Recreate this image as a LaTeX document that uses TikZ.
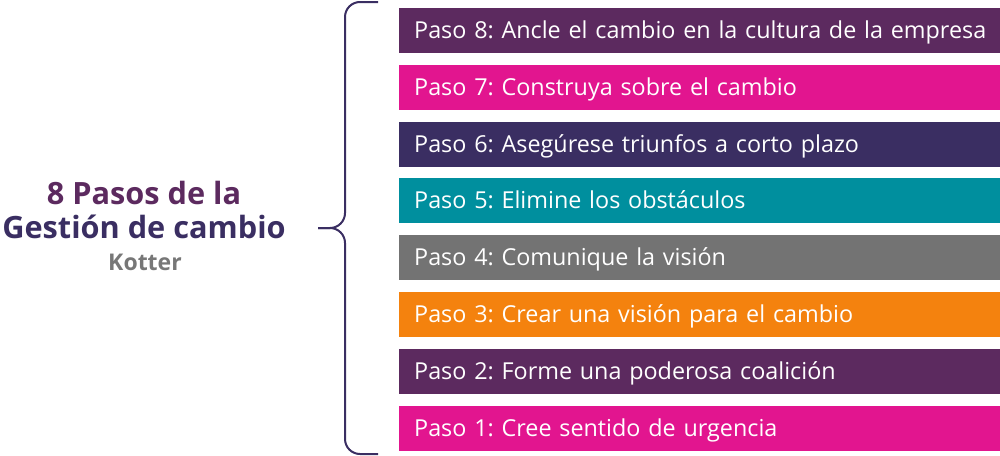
\documentclass[tikz,border=0pt]{standalone}
\usepackage{fontspec}
\setmainfont{Open Sans}
\frenchspacing
\definecolor{cpurple}{HTML}{5C2A5F}
\definecolor{cmagenta}{HTML}{E2158F}
\definecolor{cnavy}{HTML}{3A2E62}
\definecolor{cteal}{HTML}{008F9E}
\definecolor{cgrey}{HTML}{737373}
\definecolor{corange}{HTML}{F4820E}
\definecolor{ctitlegrey}{HTML}{777777}
\tikzset{
  bar/.style={anchor=north west, minimum height=45pt, inner xsep=15pt, inner ysep=0pt,
    text width=580pt, align=left, text=white, text height=16pt, text depth=0.4pt,
    font=\fontsize{23.35}{26}\selectfont},
  bracelines/.style={draw=cnavy, line width=2pt, rounded corners=15pt},
}
\begin{document}
\begin{tikzpicture}[x=1pt,y=-1pt]
\useasboundingbox (0,0) rectangle (1000,455);
\node[bar, fill=cpurple]  (p8) at (399,8)   {Paso 8: Ancle el cambio en la cultura de la empresa};
\node[bar, fill=cmagenta] (p7) at (399,65)  {Paso 7: Construya sobre el cambio};
\node[bar, fill=cnavy]    (p6) at (399,122) {Paso 6: Asegúrese triunfos a corto plazo};
\node[bar, fill=cteal]    (p5) at (399,178) {Paso 5: Elimine los obstáculos};
\node[bar, fill=cgrey]    (p4) at (399,235) {Paso 4: Comunique la visión};
\node[bar, fill=corange]  (p3) at (399,292) {Paso 3: Crear una visión para el cambio};
\node[bar, fill=cpurple]  (p2) at (399,349) {Paso 2: Forme una poderosa coalición};
\node[bar, fill=cmagenta] (p1) at (399,406) {Paso 1: Cree sentido de urgencia};
\coordinate (bt) at (378,2);
\coordinate (bb) at (378,454);
\coordinate (tip) at (318,228);
\draw[bracelines] (bt) -- (345,2) -- (345,228) -- (tip);
\draw[bracelines] (bb) -- (345,454) -- (345,228) -- (tip);
\node[anchor=base, text=cpurple, font=\fontsize{30.7}{32}\selectfont\bfseries] (t1) at (144,204) {8 Pasos de la};
\node[anchor=base, text=cnavy, font=\fontsize{30.7}{32}\selectfont\bfseries] (t2) at (144,238) {Gestión de cambio};
\node[anchor=base, text=ctitlegrey, font=\fontsize{23}{25}\selectfont\bfseries] (t3) at (145,270) {Kotter};
\end{tikzpicture}
\end{document}
